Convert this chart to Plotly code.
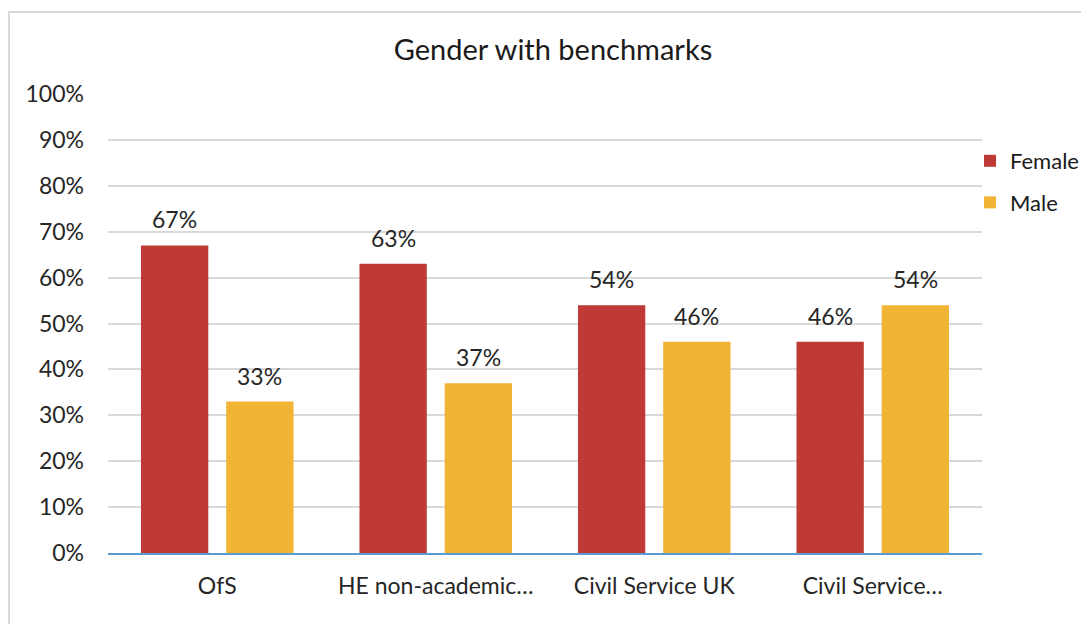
import plotly.graph_objects as go

categories = ["OfS", "HE non-academic…", "Civil Service UK", "Civil Service…"]
female = [0.67, 0.63, 0.54, 0.46]
male = [0.33, 0.37, 0.46, 0.54]
series_names = ["Female", "Male"]
colors = ["#BF3A35", "#F1B434"]

FONT = "Lato"
TXT = "#262626"

# page body adds an 8px offset; work in figure coordinates = reference px - 8
OFF = 8
W, H = 1089 - OFF, 624 - OFF
L, R, T, B = 100, 107, 86, 71
pw, ph = W - L - R, H - T - B


def px_x(x):
    return (x - OFF - L) / pw


def px_y(y):
    return (H - B - (y - OFF)) / ph


fig = go.Figure()
for name, vals, col in zip(series_names, [female, male], colors):
    fig.add_trace(go.Bar(
        x=categories, y=vals, name=name, legendgroup=name,
        marker=dict(color=col, line=dict(width=0)),
    ))

# value labels above the bars
annotations = []
for vals, shift in zip([female, male], [-42.5, 42.5]):
    for c, v in zip(categories, vals):
        annotations.append(dict(
            x=c, y=v, xref="x", yref="y", text=f"{v:.0%}", showarrow=False,
            xshift=shift, yshift=26, yanchor="middle", xanchor="center",
            font=dict(family=FONT, size=23, color=TXT),
        ))

fig.update_layout(
    width=W, height=H,
    margin=dict(l=L, r=R, t=T, b=B, autoexpand=False),
    paper_bgcolor="white", plot_bgcolor="white",
    barmode="group", bargap=0.22, bargroupgap=0.21,
    title=dict(text="Gender with benchmarks", x=(553 - OFF) / W, xanchor="center",
               y=1 - (50 - OFF) / H, yanchor="middle",
               font=dict(family=FONT, size=29, color="#1a1a1a")),
    font=dict(family=FONT, size=23, color=TXT),
    showlegend=True,
    legend=dict(x=px_x(970), xanchor="left", y=px_y(140), yanchor="top",
                traceorder="grouped", tracegroupgap=10,
                font=dict(family=FONT, size=22, color="#1a1a1a"),
                itemwidth=30, bgcolor="rgba(0,0,0,0)"),
    xaxis=dict(showgrid=False, showline=True, linecolor="#5B9BD5", linewidth=2,
               ticks="", ticklabelstandoff=11,
               tickfont=dict(family=FONT, size=23, color=TXT)),
    yaxis=dict(range=[0, 1], dtick=0.1, tickformat=".0%", showgrid=True,
               gridcolor="#D9D9D9", gridwidth=1.5, zeroline=False, showline=False,
               ticklabelstandoff=23,
               tickfont=dict(family=FONT, size=23, color=TXT)),
    annotations=annotations,
    shapes=[dict(type="rect", xref="paper", yref="paper",
                 x0=px_x(9), x1=px_x(1110), y0=px_y(650), y1=px_y(12),
                 line=dict(color="#D9D9D9", width=2), layer="below")],
)

fig.write_html("out.html")
